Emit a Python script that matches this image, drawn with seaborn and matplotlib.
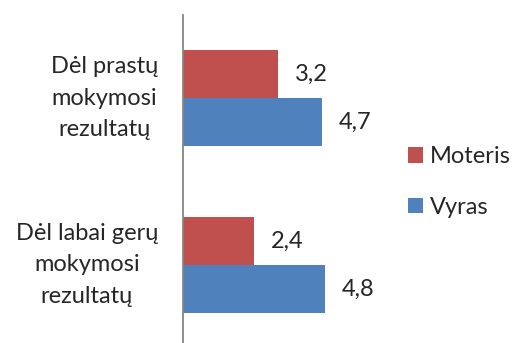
import matplotlib
matplotlib.use("Agg")
import matplotlib.pyplot as plt
from matplotlib.patches import Patch
import seaborn as sns
import pandas as pd

categories = ["Dėl prastų\nmokymosi\nrezultatų", "Dėl labai gerų\nmokymosi\nrezultatų"]
series = ["Moteris", "Vyras"]
moteris = [3.2, 2.4]
vyras = [4.7, 4.8]
colors = ["#C0504D", "#4F81BD"]

df = pd.DataFrame({
    "kategorija": categories * 2,
    "lytis": [series[0]] * 2 + [series[1]] * 2,
    "reiksme": moteris + vyras,
})

sns.set_theme(style="white")
plt.rcParams["font.family"] = ["Lato", "DejaVu Sans"]
FS = 17

fig = plt.figure(figsize=(5.12, 3.43), dpi=100)
ax = fig.add_axes([183 / 512, -0.016, 178 / 512, 0.9737])

sns.barplot(data=df, y="kategorija", x="reiksme", hue="lytis",
            hue_order=series, palette=colors, orient="h",
            width=0.575, saturation=1, ax=ax, legend=False,
            linewidth=0)

ax.set_xlim(0, 6)
ax.set_xlabel("")
ax.set_ylabel("")
ax.set_xticks([])
for s in ["top", "right", "bottom"]:
    ax.spines[s].set_visible(False)
ax.spines["left"].set_color("#868686")
ax.spines["left"].set_linewidth(1.3)
ax.tick_params(axis="y", length=0, pad=18, labelsize=FS)
for lbl in ax.get_yticklabels():
    lbl.set_multialignment("center")
    lbl.set_linespacing(1.6)
    lbl.set_verticalalignment("center")

for cont in ax.containers:
    labels = [f"{v:.1f}".replace(".", ",") for v in cont.datavalues]
    ax.bar_label(cont, labels=labels, padding=12, fontsize=FS)

handles = [Patch(facecolor=c, edgecolor="none") for c in colors]
fig.legend(handles, series, loc="upper left", bbox_to_anchor=(399 / 512, 1 - 137 / 343),
           frameon=False, fontsize=FS, handlelength=0.62, handleheight=0.62,
           handletextpad=0.3, labelspacing=1.25, borderaxespad=0)

fig.savefig("out.png", dpi=100)
